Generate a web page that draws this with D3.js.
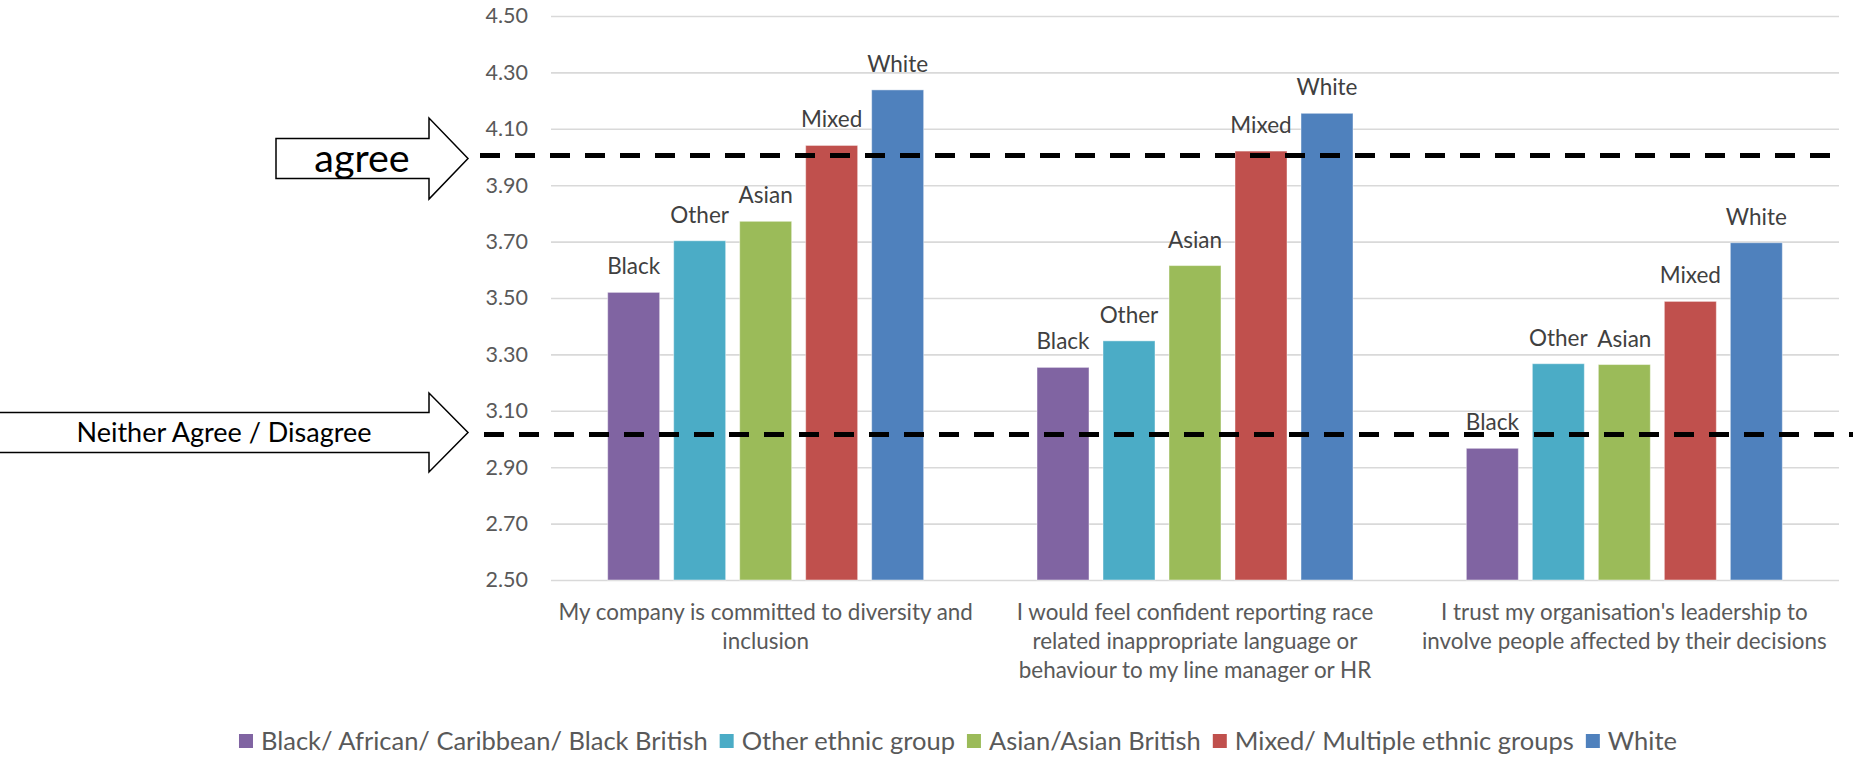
<!DOCTYPE html>
<html>
<head>
<meta charset="utf-8">
<script src="https://cdn.jsdelivr.net/npm/d3@7"></script>
<style>
  body { margin: 0; background: #fff; }
  svg { display: block; font-family: Lato, "Open Sans", sans-serif; }
</style>
</head>
<body>
<svg id="chart" width="1853" height="757"></svg>
<script>
// Survey statements (category axis), one entry per line of the label
const questions = [
  ["My company is committed to diversity and", "inclusion"],
  ["I would feel confident reporting race", "related inappropriate language or", "behaviour to my line manager or HR"],
  ["I trust my organisation's leadership to", "involve people affected by their decisions"]
];

// Ethnic groups (series)
const seriesNames = [
  "Black/ African/ Caribbean/ Black British",
  "Other ethnic group",
  "Asian/Asian British",
  "Mixed/ Multiple ethnic groups",
  "White"
];
const shortLabels = ["Black", "Other", "Asian", "Mixed", "White"];
const seriesColors = ["#8064A2", "#4BACC6", "#9BBB59", "#C0504D", "#4F81BD"];

// Mean agreement score per statement, for each group
const blackValues = [3.52, 3.254, 2.967];
const otherValues = [3.703, 3.348, 3.267];
const asianValues = [3.772, 3.615, 3.264];
const mixedValues = [4.041, 4.021, 3.488];
const whiteValues = [4.238, 4.155, 3.696];

// Value axis tick labels
const yTicks = [2.5, 2.7, 2.9, 3.1, 3.3, 3.5, 3.7, 3.9, 4.1, 4.3, 4.5];

// Scale anchors: "agree" and "neither agree nor disagree"
const referenceNames = ["agree", "Neither Agree / Disagree"];
const referenceValues = [4.005, 3.016];

const seriesValues = [blackValues, otherValues, asianValues, mixedValues, whiteValues];
const qKeys = questions.map((q, i) => "q" + i);

const svg = d3.select("#chart");

const plotLeft = 551, plotRight = 1839, plotTop = 16, plotBottom = 580;

const y = d3.scaleLinear().domain([2.5, 4.5]).range([plotBottom, plotTop]);

const x0 = d3.scaleBand()
  .domain(qKeys)
  .range([plotLeft, plotRight])
  .paddingInner(0.264)
  .paddingOuter(0.132);

const x1 = d3.scaleBand()
  .domain(d3.range(seriesNames.length))
  .range([0, x0.bandwidth()])
  .paddingInner(14 / 66)
  .paddingOuter(0);

// Gridlines and value axis
const yAxis = d3.axisLeft(y)
  .tickValues(yTicks)
  .tickFormat(d3.format(".2f"))
  .tickSize(-(plotRight - plotLeft))
  .tickPadding(23);

const gy = svg.append("g")
  .attr("transform", `translate(${plotLeft},0)`)
  .call(yAxis);
gy.select(".domain").remove();
gy.selectAll(".tick line").attr("stroke", "#d9d9d9").attr("stroke-width", 1.6);
gy.selectAll(".tick text")
  .attr("fill", "#595959")
  .style("font-size", "21.5px")
  .style("font-family", "Lato, sans-serif");

// Bars
const rows = [];
qKeys.forEach((k, qi) => {
  seriesValues.forEach((vals, si) => rows.push({ k, qi, si, v: vals[qi] }));
});

svg.append("g").selectAll("rect")
  .data(rows)
  .join("rect")
  .attr("x", d => x0(d.k) + x1(d.si))
  .attr("y", d => y(d.v))
  .attr("width", x1.bandwidth())
  .attr("height", d => y(2.5) - y(d.v))
  .attr("fill", d => seriesColors[d.si])
  .attr("stroke", "#ffffff")
  .attr("stroke-opacity", 0.45)
  .attr("stroke-width", 1);

// Data labels
svg.append("g").selectAll("text")
  .data(rows)
  .join("text")
  .attr("x", d => x0(d.k) + x1(d.si) + x1.bandwidth() / 2)
  .attr("y", d => y(d.v) - 18)
  .attr("text-anchor", "middle")
  .attr("fill", "#404040")
  .style("font-size", "22.5px")
  .text(d => shortLabels[d.si]);

// Category labels
const cat = svg.append("g").selectAll("text")
  .data(questions)
  .join("text")
  .attr("x", (d, i) => x0(qKeys[i]) + x0.bandwidth() / 2)
  .attr("y", 620)
  .attr("text-anchor", "middle")
  .attr("fill", "#595959")
  .style("font-size", "22.4px");
cat.selectAll("tspan")
  .data(d => d)
  .join("tspan")
  .attr("x", function () { return d3.select(this.parentNode).attr("x"); })
  .attr("dy", (d, i) => i === 0 ? 0 : 29)
  .text(d => d);

// Reference dashed lines
const refExtents = [[480, 1830], [484, 1853]];
svg.append("g").selectAll("line")
  .data(referenceValues)
  .join("line")
  .attr("x1", (d, i) => refExtents[i][0])
  .attr("x2", (d, i) => refExtents[i][1])
  .attr("y1", d => y(d))
  .attr("y2", d => y(d))
  .attr("stroke", "#000")
  .attr("stroke-width", 5)
  .attr("stroke-dasharray", "20 15");

// Block arrows pointing at the reference lines
const arrowShapes = [
  { left: 276, shaftRight: 429, tip: 468, half: 20, headHalf: 40.5, dy: 3, textX: 362, fontSize: 39.5 },
  { left: -2, shaftRight: 429, tip: 468, half: 20, headHalf: 39.5, dy: -2, textX: 224, fontSize: 27 }
];
const arrowPath = (a, cy) => {
  const p = d3.path();
  p.moveTo(a.left, cy - a.half);
  p.lineTo(a.shaftRight, cy - a.half);
  p.lineTo(a.shaftRight, cy - a.headHalf);
  p.lineTo(a.tip, cy);
  p.lineTo(a.shaftRight, cy + a.headHalf);
  p.lineTo(a.shaftRight, cy + a.half);
  p.lineTo(a.left, cy + a.half);
  p.closePath();
  return p.toString();
};
const arrows = svg.append("g").selectAll("g")
  .data(referenceValues)
  .join("g");
arrows.append("path")
  .attr("d", (d, i) => arrowPath(arrowShapes[i], y(d) + arrowShapes[i].dy))
  .attr("fill", "#fff")
  .attr("stroke", "#000")
  .attr("stroke-width", 1.5);
arrows.append("text")
  .attr("x", (d, i) => arrowShapes[i].textX)
  .attr("y", (d, i) => y(d) + arrowShapes[i].dy)
  .attr("dy", "0.35em")
  .attr("text-anchor", "middle")
  .attr("fill", "#000")
  .style("font-size", (d, i) => arrowShapes[i].fontSize + "px")
  .text((d, i) => referenceNames[i]);

// Legend, centred under the chart
const legend = svg.append("g");
const items = legend.selectAll("g")
  .data(seriesNames)
  .join("g");
items.append("rect")
  .attr("width", 14).attr("height", 14)
  .attr("y", -7)
  .attr("fill", (d, i) => seriesColors[i]);
items.append("text")
  .attr("x", 22)
  .attr("dy", "0.35em")
  .attr("fill", "#595959")
  .style("font-size", "25.5px")
  .text(d => d);
let cursor = 0;
items.each(function () {
  d3.select(this).attr("transform", `translate(${cursor},0)`);
  cursor += 22 + this.querySelector("text").getComputedTextLength() + 12;
});
const legendWidth = cursor - 12;
legend.attr("transform", `translate(${958 - legendWidth / 2},741)`);
</script>
</body>
</html>
